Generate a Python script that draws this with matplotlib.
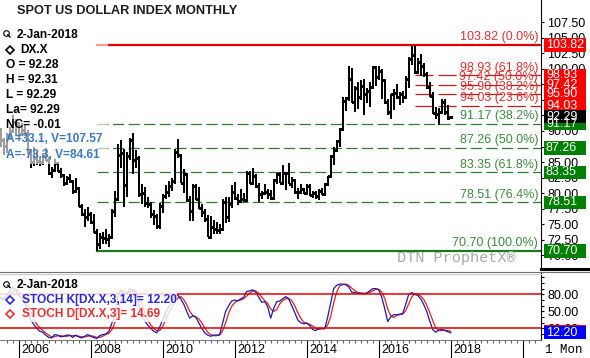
import numpy as np
import matplotlib
matplotlib.use("Agg")
import matplotlib.pyplot as plt
import matplotlib.transforms as mtransforms
from matplotlib.patches import Rectangle
from matplotlib.lines import Line2D

plt.rcParams['font.family'] = ['Liberation Sans', 'DejaVu Sans']
plt.rcParams['lines.scale_dashes'] = False

W, H = 590, 358  # output size in pixels

# ---- monthly DX.X bars, Jul 2005 .. Jan 2018 (month index 0 = Jan 2005)
FIRST_MONTH = 6
opens = [
    89.1, 88.6, 87.6, 89.3, 90.0, 91.5,
    91.2, 89.5, 90.1, 89.6, 86.6, 85.0, 85.6, 85.1, 85.0, 85.9, 85.3, 83.3,
    83.7, 84.9, 83.6, 82.9, 81.7, 82.4, 81.9, 80.4, 80.9, 78.0, 76.6, 76.1,
    76.7, 75.3, 73.7, 71.8, 73.0, 72.8, 72.6, 73.0, 77.1, 79.0, 86.2, 86.4,
    81.3, 85.9, 88.6, 85.4, 85.7, 79.9, 80.1, 78.4, 78.2, 76.7, 76.4, 74.7,
    77.9, 79.5, 80.2, 81.1, 81.9, 86.6, 86.2, 81.7, 83.1, 78.9, 77.1, 81.2,
    79.0, 77.6, 76.9, 75.9, 73.0, 74.6, 74.3, 74.0, 74.3, 78.6, 76.1, 78.3,
    80.2, 79.3, 78.8, 79.0, 78.9, 83.2, 81.6, 82.7, 81.2, 79.9, 80.0, 80.2,
    79.8, 79.3, 82.1, 83.0, 81.7, 83.3, 83.2, 81.5, 82.1, 80.2, 80.2, 80.7,
    80.0, 81.2, 79.7, 80.1, 79.5, 80.4, 79.8, 81.5, 82.7, 86.0, 86.9, 88.4,
    90.3, 94.8, 95.3, 98.4, 94.6, 96.9, 95.5, 97.3, 96.0, 96.4, 97.0, 100.2,
    98.6, 99.6, 98.2, 94.6, 93.1, 95.9, 96.1, 95.5, 96.0, 95.5, 98.4, 101.5,
    102.2, 99.5, 101.1, 100.4, 99.1, 97.0, 95.6, 92.9, 92.7, 93.1, 94.6, 93.0,
    92.28,
]
highs = [
    90.5, 88.8, 89.6, 90.6, 92.6, 91.9,
    91.3, 91.2, 91.0, 90.1, 86.9, 87.4, 86.6, 85.8, 86.5, 87.2, 85.8, 84.2,
    85.5, 85.0, 84.0, 83.0, 82.7, 83.0, 82.0, 82.5, 81.0, 78.2, 77.4, 77.8,
    77.0, 76.6, 74.2, 73.6, 73.7, 74.2, 73.5, 77.5, 80.4, 87.9, 88.5, 87.1,
    86.6, 88.8, 89.6, 87.0, 85.9, 81.4, 81.0, 79.4, 78.6, 77.3, 76.6, 78.4,
    79.9, 81.3, 82.0, 82.4, 87.1, 88.7, 86.3, 83.9, 83.3, 79.5, 81.4, 81.4,
    81.0, 78.3, 77.4, 76.5, 76.4, 75.7, 75.3, 75.1, 79.0, 79.4, 79.4, 81.3,
    81.8, 79.8, 80.7, 80.0, 83.5, 83.5, 84.1, 83.0, 81.6, 80.3, 81.4, 80.6,
    80.5, 82.2, 83.2, 83.4, 84.5, 83.4, 84.8, 82.6, 82.2, 80.8, 81.5, 80.9,
    81.5, 81.4, 80.4, 80.4, 80.6, 80.9, 81.6, 82.8, 86.1, 87.4, 88.5, 90.4,
    95.5, 95.5, 100.4, 100.1, 97.3, 97.8, 98.2, 98.3, 96.9, 97.8, 100.5, 100.5,
    100.5, 99.9, 98.3, 95.1, 96.0, 96.7, 97.6, 96.2, 96.4, 98.8, 101.9, 103.6,
    103.82, 101.8, 102.3, 101.0, 99.4, 97.8, 96.3, 93.9, 93.7, 95.2, 95.1, 94.2,
    92.31,
]
lows = [
    87.4, 86.2, 86.4, 88.6, 89.6, 89.4,
    88.4, 89.2, 89.2, 86.3, 84.1, 84.4, 84.6, 84.3, 84.6, 85.2, 82.9, 82.4,
    83.5, 83.4, 82.5, 81.2, 81.3, 81.6, 79.8, 80.3, 77.8, 76.4, 74.5, 75.6,
    75.0, 73.6, 70.7, 71.1, 71.8, 71.9, 71.3, 72.9, 76.1, 78.9, 84.0, 77.7,
    79.4, 85.4, 83.0, 84.1, 79.4, 78.3, 77.8, 77.6, 76.0, 74.9, 74.2, 74.3,
    76.8, 79.0, 79.4, 80.3, 81.5, 85.6, 81.6, 80.1, 78.6, 75.6, 75.6, 78.9,
    77.4, 76.2, 75.3, 72.9, 72.7, 73.5, 73.4, 73.4, 73.9, 75.2, 75.3, 77.6,
    78.9, 78.1, 78.6, 78.6, 78.6, 81.5, 81.4, 80.9, 78.6, 79.1, 79.9, 79.1,
    78.9, 79.0, 81.5, 81.6, 81.5, 80.5, 81.4, 80.8, 79.9, 79.0, 80.0, 79.8,
    79.8, 79.6, 79.3, 79.0, 78.9, 79.7, 79.6, 81.3, 82.6, 84.5, 86.6, 87.5,
    90.1, 93.2, 94.8, 94.5, 93.1, 93.5, 94.9, 92.6, 94.5, 93.8, 96.9, 97.2,
    98.2, 95.2, 94.3, 92.6, 91.9, 93.4, 95.2, 94.1, 94.5, 95.3, 96.9, 100.6,
    99.2, 99.1, 98.9, 98.6, 96.8, 95.4, 92.8, 91.9, 91.0, 92.7, 92.5, 91.8,
    92.28,
]
closes = [
    88.6, 87.6, 89.3, 90.0, 91.5, 91.2,
    89.5, 90.1, 89.6, 86.6, 85.0, 85.6, 85.1, 85.0, 85.9, 85.3, 83.3, 83.7,
    84.9, 83.6, 82.9, 81.7, 82.4, 81.9, 80.4, 80.9, 78.0, 76.6, 76.1, 76.7,
    75.3, 73.7, 71.8, 73.0, 72.8, 72.6, 73.0, 77.1, 79.0, 86.2, 86.4, 81.3,
    85.9, 88.6, 85.4, 85.7, 79.9, 80.1, 78.4, 78.2, 76.7, 76.4, 74.7, 77.9,
    79.5, 80.2, 81.1, 81.9, 86.6, 86.2, 81.7, 83.1, 78.9, 77.1, 81.2, 79.0,
    77.6, 76.9, 75.9, 73.0, 74.6, 74.3, 74.0, 74.3, 78.6, 76.1, 78.3, 80.2,
    79.3, 78.8, 79.0, 78.9, 83.2, 81.6, 82.7, 81.2, 79.9, 80.0, 80.2, 79.8,
    79.3, 82.1, 83.0, 81.7, 83.3, 83.2, 81.5, 82.1, 80.2, 80.2, 80.7, 80.0,
    81.2, 79.7, 80.1, 79.5, 80.4, 79.8, 81.5, 82.7, 86.0, 86.9, 88.4, 90.3,
    94.8, 95.3, 98.4, 94.6, 96.9, 95.5, 97.3, 96.0, 96.4, 97.0, 100.2, 98.6,
    99.6, 98.2, 94.6, 93.1, 95.9, 96.1, 95.5, 96.0, 95.5, 98.4, 101.5, 102.2,
    99.5, 101.1, 100.4, 99.1, 97.0, 95.6, 92.9, 92.7, 93.1, 94.6, 93.0, 92.1,
    92.29,
]

# ---- slow stochastic, same months as the bars
stoch_k = [
    75, 70, 78, 86, 92, 88,
    78, 72, 66, 50, 35, 27, 20, 15, 13, 8, 4, 3,
    9, 8, 5, 6, 8, 8, 4, 8, 5, 3, 6, 9,
    6, 4, 2, 7, 9, 10, 14, 28, 45, 75, 88, 82,
    80, 90, 88, 82, 62, 45, 33, 26, 20, 15, 12, 22,
    35, 48, 58, 64, 76, 79, 72, 63, 50, 38, 42, 40,
    30, 20, 12, 8, 6, 8, 8, 9, 30, 50, 60, 68,
    70, 68, 72, 75, 85, 86, 88, 84, 75, 66, 67, 58,
    38, 55, 67, 68, 72, 76, 72, 60, 48, 35, 30, 28,
    29, 25, 18, 16, 20, 20, 19, 40, 65, 90, 96, 98,
    98, 97, 93, 84, 83, 82, 82, 81, 82, 86, 90, 90,
    88, 75, 55, 32, 40, 44, 44, 45, 46, 62, 80, 83,
    80, 78, 72, 62, 50, 33, 18, 13, 17, 18, 16, 14,
    12.20,
]
stoch_d = [
    74, 73, 74, 78, 85, 89,
    86, 79, 72, 63, 50, 37, 27, 21, 16, 12, 8, 5,
    5, 7, 7, 6, 6, 7, 7, 7, 6, 5, 5, 6,
    7, 6, 4, 4, 6, 9, 11, 17, 29, 49, 69, 82,
    83, 84, 86, 87, 77, 63, 47, 35, 26, 20, 16, 16,
    23, 35, 47, 57, 66, 73, 76, 71, 62, 50, 43, 40,
    37, 30, 21, 13, 9, 7, 7, 8, 16, 30, 47, 59,
    65, 69, 70, 72, 77, 82, 86, 86, 82, 75, 69, 64,
    54, 50, 53, 63, 69, 72, 73, 69, 60, 48, 38, 31,
    29, 27, 24, 20, 18, 19, 20, 26, 41, 65, 84, 95,
    97, 98, 96, 91, 87, 83, 82, 82, 82, 83, 86, 89,
    89, 84, 73, 54, 42, 39, 43, 44, 45, 51, 63, 75,
    81, 80, 77, 71, 61, 48, 34, 21, 16, 16, 17, 16,
    14.69,
]

# ---- Fibonacci retracements
fib_low_month, fib_high_month = 38, 144          # Mar 2008 low, Jan 2017 high
long_levels = [103.82, 91.17, 87.26, 83.35, 78.51, 70.70]
long_labels = ['0.0%', '38.2%', '50.0%', '61.8%', '76.4%', '100.0%']
short_levels = [98.93, 97.42, 95.90, 94.03]
short_labels = ['61.8%', '50.0%', '38.2%', '23.6%']

year_ticks = [12, 36, 60, 84, 108, 132, 156, 180]
year_labels = ['2006', '2008', '2010', '2012', '2014', '2016', '2018', '']

RED, GREEN, DGREEN = '#e00000', '#2b7d2b', '#1a7a1a'

fig = plt.figure(figsize=(W / 100, H / 100), dpi=100)


def fpos(px, py):
    return px / W, 1 - py / H


ax = fig.add_axes([0, 1 - 268 / H, 541 / W, 268 / H])
ax2 = fig.add_axes([0, 1 - 340 / H, 541 / W, 67 / H])
xlim = (5.77, 186.1)

# ---- price bars
months = np.arange(FIRST_MONTH, FIRST_MONTH + len(closes))
ax.vlines(months, lows, highs, color='black', lw=1.4, antialiased=False, zorder=3)
ax.hlines(opens, months - 0.55, months, color='black', lw=1.0, antialiased=False, zorder=3)
ax.hlines(closes, months, months + 0.55, color='black', lw=1.0, antialiased=False, zorder=3)

blend = mtransforms.blended_transform_factory(ax.transAxes, ax.transData)
for lev, lab in zip(long_levels, long_labels):
    if lev == 103.82:
        ax.plot([fib_low_month, xlim[1]], [lev, lev], color=RED, lw=1.6, zorder=2)
        tc = '#e03030'
    elif lev == 70.70:
        ax.plot([fib_low_month, xlim[1]], [lev, lev], color=DGREEN, lw=1.6, zorder=2)
        tc = '#3c8c3c'
    else:
        ax.plot([fib_low_month, xlim[1]], [lev, lev], color=GREEN, lw=0.9,
                dashes=(8, 3.2), zorder=2)
        tc = '#3c8c3c'
    ax.text(538 / 541, lev + 0.25, f'{lev:.2f} ({lab})', transform=blend, ha='right',
            va='bottom', fontsize=9, color=tc, zorder=4)
for lev, lab in zip(short_levels, short_labels):
    ax.plot([fib_high_month, xlim[1]], [lev, lev], color='#d01818', lw=0.9,
            dashes=(13, 3.6), zorder=2)
    ax.text(538 / 541, lev + 0.25, f'{lev:.2f} ({lab})', transform=blend, ha='right',
            va='bottom', fontsize=9, color='#e03030', zorder=4)

ax.set_xlim(*xlim)
ax.set_ylim(67.97, 111.05)
ax.set_xticks([])
ax.yaxis.tick_right()
ax.set_yticks(np.arange(70, 108, 2.5))
ax.yaxis.set_major_formatter('{x:.2f}')
ax.tick_params(axis='y', length=2.5, width=0.8, pad=2, labelsize=9)
for s in ['left', 'top', 'bottom']:
    ax.spines[s].set_visible(False)
ax.spines['right'].set_linewidth(0.8)


def value_box(axis, val, text, color, h):
    tr = mtransforms.blended_transform_factory(axis.transAxes, axis.transData)
    axis.add_patch(Rectangle((544 / 541, val - h / 2), 42 / 541, h, transform=tr,
                             facecolor=color, edgecolor='none', clip_on=False, zorder=5))
    axis.text(546 / 541, val, text, transform=tr, color='white', fontsize=9,
              va='center', ha='left', clip_on=False, zorder=6)


# boxes drawn top to bottom, last price on top
for lev in [103.82] + short_levels:
    value_box(ax, lev, f'{lev:.2f}', '#ff0000', 2.1)
for lev in long_levels[1:]:
    value_box(ax, lev, f'{lev:.2f}', '#008000', 2.1)
value_box(ax, closes[-1], f'{closes[-1]:.2f}', 'black', 2.1)

# ---- stochastic panel
ax2.plot(months, stoch_d, color='#e02020', lw=0.9)
ax2.plot(months, stoch_k, color='#1a1ab0', lw=0.9)
ax2.axhline(80, color=RED, lw=1.1)
ax2.axhline(20, color=RED, lw=1.1)
ax2.set_xlim(*xlim)
ax2.set_ylim(-0.6, 117.6)
ax2.yaxis.tick_right()
ax2.set_yticks([20, 50, 80])
ax2.set_yticks(np.arange(10, 111, 10), minor=True)
ax2.yaxis.set_major_formatter('{x:.2f}')
ax2.tick_params(axis='y', which='both', length=2.5, width=0.8, pad=2, labelsize=9)
ax2.set_xticks(year_ticks)
ax2.set_xticklabels([])
ax2.set_xticks(np.arange(8, 186, 2), minor=True)
ax2.tick_params(axis='x', which='major', length=13, width=0.8, color='black')
ax2.tick_params(axis='x', which='minor', length=2.2, width=0.6, color='#404040')
for s in ['left', 'top']:
    ax2.spines[s].set_visible(False)
ax2.spines['right'].set_linewidth(0.8)
ax2.spines['bottom'].set_linewidth(0.6)
ax2.spines['bottom'].set_color('#606060')
value_box(ax2, stoch_d[-1], '', '#ff0000', 22.9)
value_box(ax2, stoch_k[-1], f'{stoch_k[-1]:.2f}', '#0000ff', 22.9)

xb = mtransforms.blended_transform_factory(ax2.transData, fig.transFigure)
for t, lab in zip(year_ticks, year_labels):
    ax2.text(t + 1.0, 1 - 350 / H, lab, transform=xb, fontsize=9, va='center',
             ha='left', clip_on=False)
fig.text(*fpos(545, 350), '1 Mon', family='Liberation Mono', fontsize=9, va='center')

# panel separators
fig.add_artist(Line2D([0, 1], [1 - 271.5 / H] * 2, color='#707070', lw=0.8))
fig.add_artist(Line2D([0, 541 / W], [1 - 273.8 / H] * 2, color='#c8c8c8', lw=0.8))
fig.add_artist(Line2D([541 / W, 1], [1 - 269 / H] * 2, color='black', lw=2.2))

# ---- legend overlays (fade what lies underneath)
fig.add_artist(Rectangle(fpos(0, 164), 108 / W, 140 / H, transform=fig.transFigure,
                         facecolor='white', alpha=0.62, edgecolor='none', zorder=1))
fig.add_artist(Rectangle(fpos(0, 322), 177 / W, 46 / H, transform=fig.transFigure,
                         facecolor='white', alpha=0.82, edgecolor='none', zorder=1))


def magnifier(px, py):
    fig.add_artist(Line2D([px / W], [1 - py / H], marker='o', ms=4, mfc='none',
                          mec='black', mew=0.8, transform=fig.transFigure))
    fig.add_artist(Line2D([(px + 1.8) / W, (px + 4) / W], [1 - (py + 1.8) / H, 1 - (py + 4) / H],
                          color='black', lw=1, transform=fig.transFigure))


def diamond(px, py, color):
    fig.add_artist(Line2D([px / W], [1 - py / H], marker='D', ms=4.2, mfc='none',
                          mec=color, mew=1.2, transform=fig.transFigure))


fig.text(*fpos(17, 11), 'SPOT US DOLLAR INDEX MONTHLY', fontsize=9.2, weight='bold',
         color='#1c1c1c', va='center')
magnifier(6, 33)
fig.text(*fpos(17, 34.5), '2-Jan-2018', fontsize=8.6, weight='bold', va='center')
diamond(9.5, 50, 'black')
legend_lines = ['DX.X', 'O = 92.28', 'H = 92.31', 'L = 92.29', 'La= 92.29', 'NC= -0.01']
legend_y = [50, 64.5, 80, 95, 110, 125]
legend_x = [20.5, 5.5, 5.5, 5.5, 5.5, 5.5]
for s, x, y in zip(legend_lines, legend_x, legend_y):
    fig.text(*fpos(x, y), s, fontsize=8.6, weight='bold', va='center', color='black')
fig.text(*fpos(5.5, 139.5), 'A=33.1, V=107.57', fontsize=8.6, weight='bold',
         va='center', color='#3a78c4')
fig.text(*fpos(5.5, 154.5), 'A=-73.3, V=84.61', fontsize=8.6, weight='bold',
         va='center', color='#3a78c4')

magnifier(6, 283.5)
fig.text(*fpos(17, 285), '2-Jan-2018', fontsize=8.6, weight='bold', va='center')
diamond(9.5, 300, '#2828d0')
fig.text(*fpos(21.5, 300), 'STOCH K[DX.X,3,14]= 12.20', fontsize=8.6, weight='bold',
         va='center', color='#2828d0')
diamond(9.5, 314, '#e83030')
fig.text(*fpos(21.5, 314), 'STOCH D[DX.X,3]= 14.69', fontsize=8.6, weight='bold',
         va='center', color='#e83030')

fig.text(*fpos(397, 258), 'DTN ProphetX\u00ae', family='Liberation Mono', fontsize=11,
         color='#a8a8a8', va='center')

fig.savefig('out.png', dpi=100)
